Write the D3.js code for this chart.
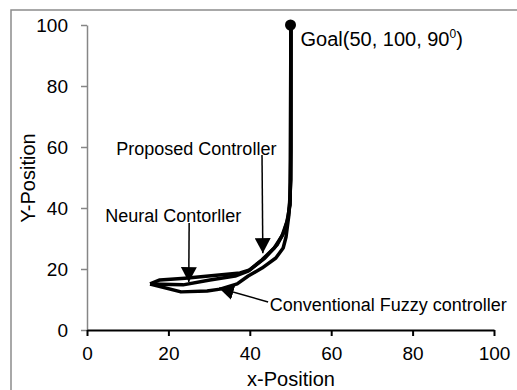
<!DOCTYPE html>
<html>
<head>
<meta charset="utf-8">
<script src="https://cdn.jsdelivr.net/npm/d3@7/dist/d3.min.js"></script>
<style>
  html, body { margin: 0; padding: 0; background: #fff; }
  svg { display: block; font-family: "Liberation Sans", Arial, sans-serif; }
</style>
</head>
<body>
<svg id="chart" width="517" height="390"></svg>
<script>
// Robot trajectories toward the goal pose, one path per controller
const neuralPath = [
  [15.5, 15.1], [17.9, 16.4], [24.1, 17.0], [37.6, 18.7], [40.0, 19.7],
  [43.7, 23.6], [46.7, 27.9], [48.4, 32.1], [49.4, 36.7], [49.9, 42.6],
  [50.1, 59.0], [50.1, 99.0]
];
const proposedPath = [
  [15.5, 15.1], [23.6, 14.8], [30.2, 16.4], [36.4, 17.7], [39.6, 19.3],
  [43.0, 23.0], [46.0, 26.9], [47.9, 30.8], [49.1, 35.4], [49.9, 41.0],
  [50.1, 99.0]
];
const fuzzyPath = [
  [15.5, 15.1], [23.1, 12.5], [29.5, 12.8], [32.7, 13.4], [36.9, 15.1],
  [39.6, 17.7], [43.0, 20.3], [46.4, 23.6], [48.2, 26.9], [48.9, 30.5],
  [49.6, 37.7], [50.1, 49.2], [50.1, 99.0]
];
const goal = [50, 100];
const goalAngle = 90;

const xTicks = [0, 20, 40, 60, 80, 100];
const yTicks = [0, 20, 40, 60, 80, 100];

// Callouts: label, label anchor, arrow tail, arrow tip (data units)
const callouts = [
  { text: "Proposed Controller", at: [7.2, 57.3], from: [43.0, 57.4], to: [43.2, 25.2] },
  { text: "Neural Contorller", at: [4.5, 35.4], from: [25.1, 35.1], to: [25.0, 15.7] },
  { text: "Conventional Fuzzy controller", at: [44.9, 6.3], from: [44.5, 9.2], to: [32.4, 13.8] }
];

const svg = d3.select("#chart");
const x = d3.scaleLinear().domain([0, 100]).range([87, 494]);
const y = d3.scaleLinear().domain([0, 100]).range([330, 25]);

// Outer frame
svg.append("rect")
  .attr("x", 11).attr("y", 10).attr("width", 520).attr("height", 400)
  .attr("fill", "#fff").attr("stroke", "#8c8c8c").attr("stroke-width", 1.5);

// Arrowhead
svg.append("defs").append("marker")
  .attr("id", "head")
  .attr("markerUnits", "userSpaceOnUse")
  .attr("viewBox", "0 0 15 16")
  .attr("refX", 15).attr("refY", 8)
  .attr("markerWidth", 15).attr("markerHeight", 16)
  .attr("orient", "auto")
  .append("path").attr("d", "M0,0L15,8L0,16Z").attr("fill", "#000");

// Y axis (grey)
const yAxis = svg.append("g")
  .attr("transform", `translate(${x(0)},0)`)
  .call(d3.axisLeft(y).tickValues(yTicks).tickSize(6).tickSizeOuter(0).tickPadding(13));
yAxis.select(".domain").attr("stroke", "#868686").attr("stroke-width", 1.5);
yAxis.selectAll(".tick line").attr("stroke", "#868686").attr("stroke-width", 1.5);
yAxis.selectAll(".tick text").attr("font-size", 19).attr("fill", "#000")
  .attr("font-family", "Liberation Sans, Arial, sans-serif");

// X axis (black)
const xAxis = svg.append("g")
  .attr("transform", `translate(0,${y(0)})`)
  .call(d3.axisBottom(x).tickValues(xTicks).tickSize(6).tickSizeOuter(0).tickPadding(11));
xAxis.select(".domain").attr("stroke", "#000").attr("stroke-width", 2);
xAxis.selectAll(".tick line").attr("stroke", "#000").attr("stroke-width", 2);
xAxis.selectAll(".tick text").attr("font-size", 19).attr("fill", "#000")
  .attr("font-family", "Liberation Sans, Arial, sans-serif");

// Axis titles
svg.append("text")
  .attr("x", 291).attr("y", 386)
  .attr("text-anchor", "middle").attr("font-size", 20)
  .text("x-Position");
svg.append("text")
  .attr("transform", "translate(35,178) rotate(-90)")
  .attr("text-anchor", "middle").attr("font-size", 20)
  .text("Y-Position");

// Trajectories
const line = d3.line().x(d => x(d[0])).y(d => y(d[1]));
svg.append("g")
  .selectAll("path")
  .data([neuralPath, proposedPath, fuzzyPath])
  .join("path")
  .attr("d", line)
  .attr("fill", "none")
  .attr("stroke", "#000")
  .attr("stroke-width", 3.5)
  .attr("stroke-linejoin", "round");

// Goal marker and label
svg.append("circle")
  .attr("cx", x(goal[0])).attr("cy", y(goal[1]))
  .attr("r", 5.5).attr("fill", "#000");
const goalLabel = svg.append("text")
  .attr("x", x(goal[0]) + 10).attr("y", y(goal[1]) + 21)
  .attr("font-size", 20);
goalLabel.append("tspan").text(`Goal(${goal[0]}, ${goal[1]}, ${goalAngle}`);
goalLabel.append("tspan").attr("font-size", 12).attr("dy", -8).text("0");
goalLabel.append("tspan").attr("dy", 8).text(")");

// Callout arrows and labels
const calloutG = svg.append("g");
calloutG.selectAll("line")
  .data(callouts)
  .join("line")
  .attr("x1", d => x(d.from[0])).attr("y1", d => y(d.from[1]))
  .attr("x2", d => x(d.to[0])).attr("y2", d => y(d.to[1]))
  .attr("stroke", "#000").attr("stroke-width", 1.5)
  .attr("marker-end", "url(#head)");
calloutG.selectAll("text")
  .data(callouts)
  .join("text")
  .attr("x", d => x(d.at[0])).attr("y", d => y(d.at[1]))
  .attr("font-size", 18)
  .text(d => d.text);
</script>
</body>
</html>
